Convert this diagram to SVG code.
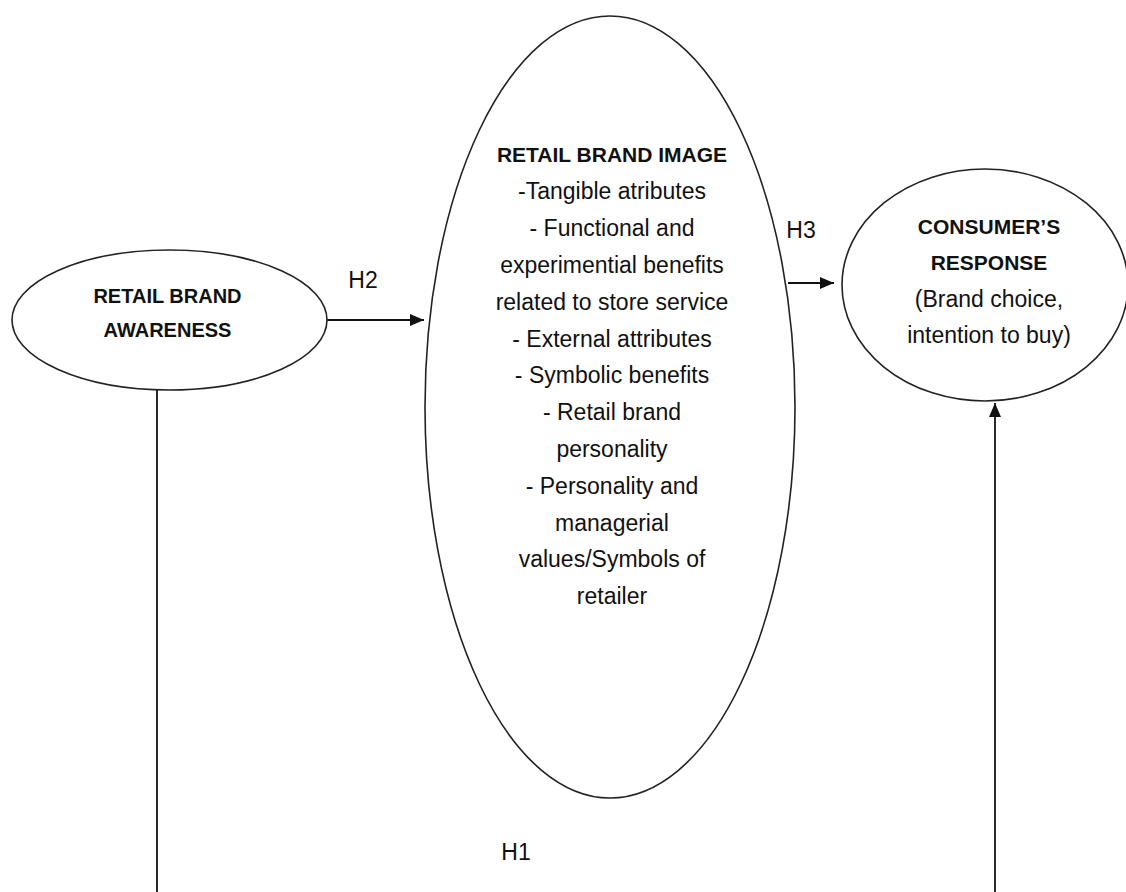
<svg xmlns="http://www.w3.org/2000/svg" width="1126" height="892" viewBox="0 0 1126 892">
<style>
.node{fill:#fff;stroke:#222;stroke-width:1.6}
.t{font-family:"Liberation Sans",Arial,sans-serif;font-size:23px;fill:#111;text-anchor:middle}
.b{font-family:"Liberation Sans",Arial,sans-serif;font-size:21px;font-weight:bold;fill:#111;text-anchor:middle}
.conn{stroke:#111;stroke-width:1.8;fill:none}
</style>
<defs>
<marker id="ah" markerWidth="14" markerHeight="12" refX="14" refY="6" orient="auto" markerUnits="userSpaceOnUse">
<path d="M0,0 L14,6 L0,12 Z" fill="#111"/>
</marker>
</defs>
<rect width="1126" height="892" fill="#fff"/>
<g id="connectors">
<line class="conn" x1="327" y1="320" x2="424" y2="320" marker-end="url(#ah)"/>
<line class="conn" x1="788" y1="283" x2="834" y2="283" marker-end="url(#ah)"/>
<line class="conn" x1="157" y1="390" x2="157" y2="892"/>
<line class="conn" x1="995" y1="892" x2="995" y2="403" marker-end="url(#ah)"/>
<text class="t" x="363" y="288">H2</text>
<text class="t" x="801" y="238">H3</text>
<text class="t" x="516" y="860">H1</text>
</g>
<g id="awareness">
<ellipse class="node" cx="169.5" cy="320" rx="157.5" ry="70"/>
<text x="167.5" y="303" class="b" style="font-size:20px">RETAIL BRAND</text>
<text x="167.5" y="337" class="b" style="font-size:20px">AWARENESS</text>
</g>
<g id="image">
<ellipse class="node" cx="610" cy="407" rx="185" ry="391"/>
<text x="612" y="162" class="b">RETAIL BRAND IMAGE</text>
<text class="t" x="612" y="199">-Tangible atributes</text>
<text class="t" x="612" y="236">- Functional and</text>
<text class="t" x="612" y="273">experimential benefits</text>
<text class="t" x="612" y="310">related to store service</text>
<text class="t" x="612" y="347">- External attributes</text>
<text class="t" x="612" y="383">- Symbolic benefits</text>
<text class="t" x="612" y="420">- Retail brand</text>
<text class="t" x="612" y="457">personality</text>
<text class="t" x="612" y="494">- Personality and</text>
<text class="t" x="612" y="531">managerial</text>
<text class="t" x="612" y="567">values/Symbols of</text>
<text class="t" x="612" y="604">retailer</text>
</g>
<g id="response">
<ellipse class="node" cx="985" cy="285" rx="143" ry="116"/>
<text x="989" y="234" class="b">CONSUMER’S</text>
<text x="989" y="270" class="b">RESPONSE</text>
<text class="t" x="989" y="307">(Brand choice,</text>
<text class="t" x="989" y="343">intention to buy)</text>
</g>
</svg>
